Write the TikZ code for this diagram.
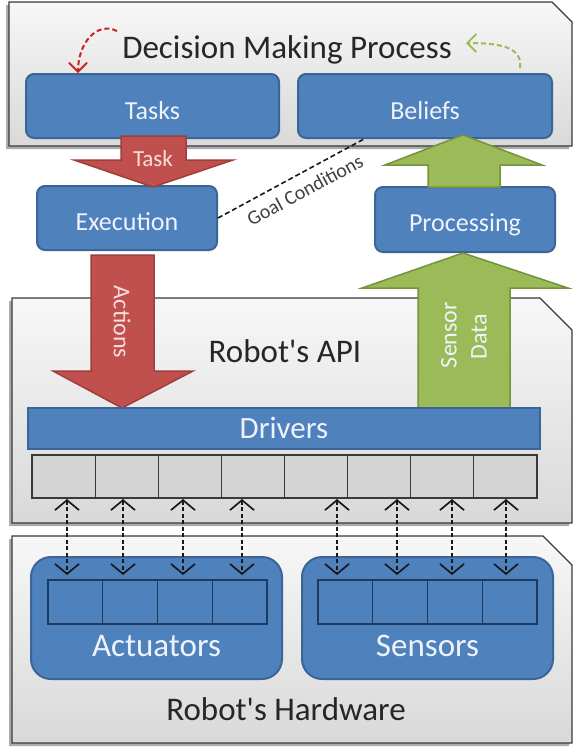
\documentclass[tikz,border=0pt]{standalone}
\usepackage{fontspec}
\setmainfont{Carlito}
\usetikzlibrary{arrows.meta,calc}
\definecolor{boxblue}{HTML}{4F81BD}
\definecolor{boxborder}{HTML}{3A6596}
\definecolor{celldark}{HTML}{1F3A5F}
\definecolor{arrred}{HTML}{C0504D}
\definecolor{arrredb}{HTML}{A13D3A}
\definecolor{arrgreen}{HTML}{9BBB59}
\definecolor{arrgreenb}{HTML}{76923C}
\definecolor{txtw}{HTML}{EEF3FB}
\definecolor{txtpink}{HTML}{F7DEDD}
\definecolor{panelb}{HTML}{3A3A3A}
\definecolor{dashred}{HTML}{D02020}
\definecolor{dashgreen}{HTML}{9BBB59}
\definecolor{cellgray}{HTML}{D4D4D4}
\tikzset{
  panel/.style={draw=panelb, line width=1.3pt, top color=gray!6, bottom color=gray!30},
  pshadow/.style={fill=gray!65, draw=none},
  bluebox/.style={draw=boxborder, line width=2pt, fill=boxblue, rounded corners=8pt,
    text=txtw, inner sep=0pt, font=\fontsize{26}{28}\selectfont},
  bigbox/.style={draw=boxborder, line width=2pt, fill=boxblue, rounded corners=20pt, inner sep=0pt},
  drvbar/.style={draw=boxborder, line width=1.5pt, fill=boxblue, inner sep=0pt,
    text=txtw, font=\fontsize{31}{33}\selectfont},
  graycell/.style={draw=gray!45!black, line width=1.1pt, fill=cellgray, inner sep=0pt,
    minimum width=63.125pt, minimum height=43pt},
  bluecell/.style={draw=celldark, line width=1.3pt, fill=boxblue, inner sep=0pt,
    minimum width=54.75pt, minimum height=44pt},
  ptitle/.style={text=black!85, inner sep=0pt, anchor=base, font=\fontsize{33}{35}\selectfont},
  lbl/.style={text=txtw, inner sep=0pt, anchor=base, font=\fontsize{33}{35}\selectfont},
  redarrow/.style={fill=arrred, draw=arrredb, line width=1.5pt, line join=miter},
  greenarrow/.style={fill=arrgreen, draw=arrgreenb, line width=1.5pt, line join=miter},
  arrtext/.style={inner sep=0pt, font=\fontsize{24}{26}\selectfont},
  dbl/.style={line width=1.7pt, draw=black!90, dash pattern=on 4pt off 2.5pt,
    arrows={Straight Barb[length=10pt,width=24pt,line width=1.7pt]-Straight Barb[length=10pt,width=24pt,line width=1.7pt]}},
  curvedash/.style={line width=2pt, dash pattern=on 5pt off 3pt,
    arrows={-Straight Barb[length=9pt,width=18pt,line width=1.8pt]}}
}
\begin{document}
\begin{tikzpicture}[x=1pt,y=-1pt]
\useasboundingbox (0,0) rectangle (574,748);
\fill[white] (0,0) rectangle (574,748);

% ---------- panels ----------
\begin{scope}[shift={(-3,3)}]
  \fill[pshadow] (9,2) -- (552,2) -- (572,22) -- (572,146) -- (9,146) -- cycle;
  \fill[pshadow] (12,298) -- (540,298) -- (572,330) -- (572,523) -- (12,523) -- cycle;
  \fill[pshadow] (12,536) -- (543,536) -- (572,565) -- (572,743) -- (12,743) -- cycle;
\end{scope}
\path[panel] (9,2) -- (552,2) -- (572,22) -- (572,146) -- (9,146) -- cycle;
\path[panel] (12,298) -- (540,298) -- (572,330) -- (572,523) -- (12,523) -- cycle;
\path[panel] (12,536) -- (543,536) -- (572,565) -- (572,743) -- (12,743) -- cycle;

% ---------- top panel ----------
\node[ptitle] (dmp) at (287,58) {Decision Making Process};
\node[bluebox, minimum width=253pt, minimum height=64pt] (tasks) at (152.5,106) {};
\node[lbl, font=\fontsize{26}{28}\selectfont] (taskstxt) at (tasks.center |- 0,119) {Tasks};
\node[bluebox, minimum width=254pt, minimum height=64pt] (beliefs) at (425,106) {};
\node[lbl, font=\fontsize{26}{28}\selectfont] (beliefstxt) at (beliefs.center |- 0,119) {Beliefs};

\coordinate (rs) at (117,31);
\coordinate (re) at (78,73);
\draw[curvedash, draw=dashred] (rs) .. controls (96,21) and (78,44) .. (re);
\coordinate (gs) at (520,68);
\coordinate (ge) at (466,43);
\draw[curvedash, draw=dashgreen] (gs) .. controls (523,47) and (500,43) .. (ge);

% ---------- middle boxes ----------
\node[bluebox, minimum width=180pt, minimum height=64pt] (exec) at (127,218) {};
\node[lbl, font=\fontsize{26}{28}\selectfont] (exectxt) at (exec.center |- 0,230) {Execution};
\node[bluebox, minimum width=180pt, minimum height=65pt] (proc) at (465,219.5) {};
\node[lbl, font=\fontsize{26}{28}\selectfont] (proctxt) at (proc.center |- 0,231) {Processing};

% Task arrow
\path[redarrow] (121,136) -- (186,136) -- (186,160) -- (233,160) -- (153,187) -- (74,160) -- (121,160) -- cycle;
\node[arrtext, text=txtpink, anchor=base, font=\fontsize{23}{25}\selectfont] (tasklbl) at (153,166) {Task};

% small green arrow
\path[greenarrow] (428,187) -- (500,187) -- (500,165) -- (542,165) -- (463,135) -- (385,165) -- (428,165) -- cycle;

% goal conditions
\coordinate (gc) at ($(beliefs.south west)+(67,0)$);
\draw[dashed, dash pattern=on 5pt off 3pt, line width=1.6pt, black!90] (exec.east) -- (gc);
\node[rotate=28.5, text=black!75, inner sep=0pt, font=\fontsize{20}{22}\selectfont] (goal) at (305,190) {Goal Conditions};

% ---------- middle panel ----------
\node[ptitle] (api) at (285,362) {Robot\textquotesingle s API};

% Actions arrow
\path[redarrow] (91,255) -- (154,255) -- (154,371) -- (193,371) -- (122,408) -- (53,371) -- (91,371) -- cycle;
\node[arrtext, text=txtpink, rotate=-90] (actlbl) at (122,322) {Actions};

% big green arrow
\path[greenarrow] (418,408) -- (510,408) -- (510,288) -- (568,288) -- (463,253) -- (362,288) -- (418,288) -- cycle;
\node[arrtext, text=txtw, rotate=90] (sensorlbl) at (449,335) {Sensor};
\node[arrtext, text=txtw, rotate=90] (datalbl) at (479,337) {Data};

% drivers
\node[drvbar, minimum width=512pt, minimum height=41pt] (drivers) at (284,428.5) {};
\node[lbl, font=\fontsize{31}{33}\selectfont] (drvtxt) at (drivers.center |- 0,438) {Drivers};
\foreach \i in {1,...,8}
  \node[graycell] (c\i) at ({32+63.125*(\i-0.5)},476.5) {};

% ---------- bottom panel ----------
\node[bigbox, minimum width=251pt, minimum height=122pt] (act) at (156.5,618) {};
\node[bigbox, minimum width=251pt, minimum height=122pt] (sen) at (427.5,618) {};
\foreach \i in {1,...,4}
  \node[bluecell] (a\i) at ({48+54.75*(\i-0.5)},602) {};
\foreach \i in {1,...,4}
  \node[bluecell] (s\i) at ({318+54.75*(\i-0.5)},602) {};
\node[lbl] (acttxt) at (act.center |- 0,656) {Actuators};
\node[lbl] (sentxt) at (sen.center |- 0,656) {Sensors};
\node[ptitle] (hw) at (286,720) {Robot\textquotesingle s Hardware};

% double arrows
\foreach \x [count=\k] in {67,123,183,242,337,397,452,506} {
  \coordinate (u\k) at (\x,499);
  \coordinate (d\k) at (\x,575);
  \draw[dbl] (u\k) -- (d\k);
}
\end{tikzpicture}
\end{document}
